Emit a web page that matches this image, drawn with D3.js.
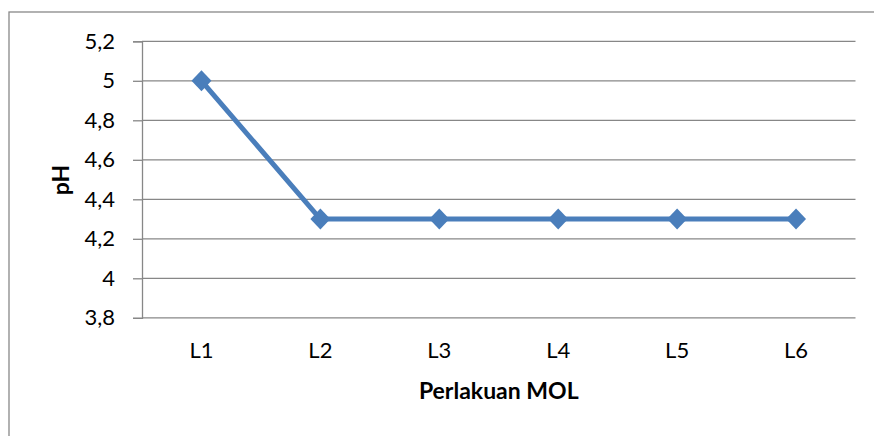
<!DOCTYPE html>
<html><head><meta charset="utf-8">
<script src="https://cdn.jsdelivr.net/npm/d3@7"></script>
<style>body{margin:0;background:#fff}svg{display:block}text{font-family:Lato,"Liberation Sans",sans-serif;fill:#000}</style>
</head><body><svg id="c" width="874" height="436"></svg>
<script>
const categories = ["L1","L2","L3","L4","L5","L6"];
const phValues = [5, 4.3, 4.3, 4.3, 4.3, 4.3];
const yTicks = [3.8, 4, 4.2, 4.4, 4.6, 4.8, 5, 5.2];
const xTitle = "Perlakuan MOL";
const yTitle = "pH";

const svg = d3.select("#c");
const L = 142, R = 855.5, T = 41.3, B = 317.8;
svg.append("rect").attr("x",9).attr("y",12).attr("width",880).attr("height",440)
  .attr("fill","none").attr("stroke","#898989").attr("stroke-width",1.3);

const x = d3.scaleBand().domain(categories).range([L,R]);
const y = d3.scaleLinear().domain([3.8,5.2]).range([B,T]);
const fmt = v => String(+v.toFixed(1)).replace(".", ",");

svg.append("g").selectAll("line").data(yTicks).join("line")
  .attr("x1",L).attr("x2",R).attr("y1",d=>y(d)).attr("y2",d=>y(d))
  .attr("stroke","#878787").attr("stroke-width",1.3);

const ya = svg.append("g").attr("transform",`translate(${L},0)`)
  .call(d3.axisLeft(y).tickValues(yTicks).tickFormat(fmt).tickSize(9).tickPadding(18));
ya.select(".domain").attr("stroke","#878787").attr("stroke-width",1.3);
ya.selectAll(".tick line").attr("stroke","#878787").attr("stroke-width",1.3);
ya.selectAll("text").style("font-size","22px").attr("fill","#000");

const xa = svg.append("g").attr("transform",`translate(0,${B})`)
  .call(d3.axisBottom(x).tickSize(0).tickPadding(25));
xa.select(".domain").remove();
xa.selectAll("text").style("font-size","22px").attr("fill","#000");

const cx = d => x(d) + x.bandwidth()/2;
const pts = categories.map((c,i)=>[cx(c), y(phValues[i])]);
svg.append("path").attr("d", d3.line()(pts)).attr("fill","none")
  .attr("stroke","#4a7ebb").attr("stroke-width",5);
svg.append("g").selectAll("path").data(pts).join("path")
  .attr("d", d=>`M${d[0]},${d[1]-10.5}L${d[0]+10},${d[1]}L${d[0]},${d[1]+10.5}L${d[0]-10},${d[1]}Z`)
  .attr("fill","#4a7ebb");

svg.append("text").attr("x",(L+R)/2).attr("y",399).attr("text-anchor","middle")
  .style("font-size","23px").style("font-weight","bold").text(xTitle);
svg.append("text").attr("transform",`translate(69,180) rotate(-90)`).attr("text-anchor","middle")
  .style("font-size","23px").style("font-weight","bold").text(yTitle);
</script></body></html>
